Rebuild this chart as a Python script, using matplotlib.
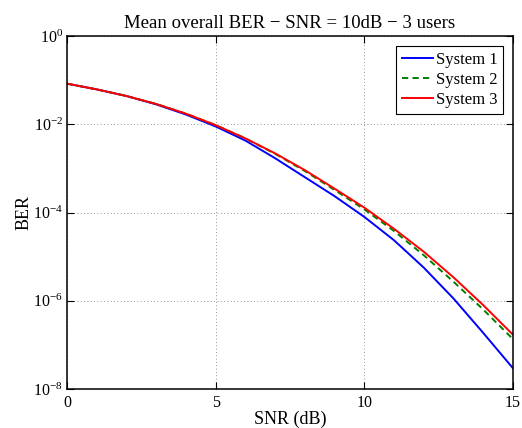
import numpy as np
import matplotlib
matplotlib.use("Agg")
import matplotlib.pyplot as plt
from matplotlib.ticker import NullLocator

plt.rcParams['font.family'] = ['Liberation Serif', 'DejaVu Serif']
plt.rcParams['mathtext.fontset'] = 'custom'
plt.rcParams['mathtext.rm'] = 'Liberation Serif'
plt.rcParams['mathtext.it'] = 'Liberation Serif:italic'
plt.rcParams['mathtext.default'] = 'regular'

# Données (log10 du BER)
snr = [0, 1, 2, 3, 4, 5, 6, 7, 8, 9, 10, 11, 12, 13, 14, 15]
log_ber_1 = [-1.08, -1.21, -1.36, -1.55, -1.78, -2.05, -2.37, -2.77, -3.20,
             -3.63, -4.10, -4.63, -5.25, -5.95, -6.73, -7.53]
log_ber_2 = [-1.08, -1.21, -1.36, -1.54, -1.76, -2.02, -2.32, -2.67, -3.06,
             -3.49, -3.93, -4.42, -4.97, -5.57, -6.20, -6.87]
log_ber_3 = [-1.08, -1.21, -1.36, -1.54, -1.76, -2.02, -2.32, -2.66, -3.04,
             -3.46, -3.89, -4.37, -4.89, -5.47, -6.10, -6.77]
labels = ["System 1", "System 2", "System 3"]
x_ticks = [0, 5, 10, 15]
y_ticks = [1e-8, 1e-6, 1e-4, 1e-2, 1]

ber_1 = 10 ** np.array(log_ber_1)
ber_2 = 10 ** np.array(log_ber_2)
ber_3 = 10 ** np.array(log_ber_3)

fig = plt.figure(figsize=(5.22, 4.28), dpi=100)
ax = fig.add_axes([67/522, 1 - 389/428, (513 - 67)/522, (389 - 36)/428])

ax.semilogy(snr, ber_1, color=(0, 0, 1), lw=1.4, label=labels[0])
ax.semilogy(snr, ber_2, color=(0, 0.5, 0), lw=1.4, ls=(0, (3.2, 2.2)), label=labels[1])
ax.semilogy(snr, ber_3, color=(1, 0, 0), lw=1.4, label=labels[2])

ax.set_xlim(0, 15)
ax.set_ylim(1e-8, 1)
ax.set_xticks(x_ticks)
ax.set_yticks(y_ticks)
ax.yaxis.set_minor_locator(NullLocator())

ax.tick_params(direction='in', top=True, right=True, labelsize=11.5, length=5, width=0.8)
ax.tick_params(axis='x', pad=4)
ax.tick_params(axis='y', pad=3)
for s in ax.spines.values():
    s.set_linewidth(1.1)

ax.grid(True, which='major', ls=(0, (1, 3)), color='0.45', lw=0.6)

ax.set_xlabel("SNR (dB)", fontsize=13, labelpad=0)
ax.set_ylabel("BER", fontsize=13, labelpad=0)
ax.set_title("Mean overall BER \u2212 SNR = 10dB \u2212 3 users", fontsize=13.5, pad=6)

leg = ax.legend(loc='upper right', fontsize=12, fancybox=False, framealpha=1,
                edgecolor='black', borderpad=0.35, labelspacing=0.25,
                handlelength=1.85, handletextpad=0.15, borderaxespad=0.6)
leg.get_frame().set_linewidth(0.8)

fig.savefig("out.png", dpi=100)
